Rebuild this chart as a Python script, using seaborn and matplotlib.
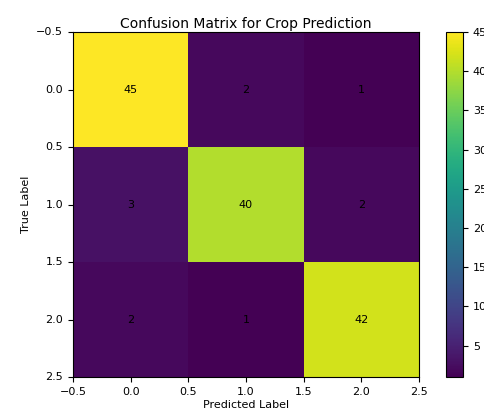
import numpy as np
import pandas as pd
import seaborn as sns
import matplotlib.pyplot as plt

# data
classes = [0, 1, 2]
row_0 = [45, 2, 1]
row_1 = [3, 40, 2]
row_2 = [2, 1, 42]

cm = pd.DataFrame([row_0, row_1, row_2], index=classes, columns=classes)

fig = plt.figure(figsize=(4.85, 4.19), dpi=100)
ax = fig.add_axes([0.1505, 0.1002, 0.7134, 0.8234])
cax = fig.add_axes([0.9196, 0.1002, 0.035, 0.8234])

sns.heatmap(cm, annot=True, fmt="d", cmap="viridis", vmin=1, vmax=45,
            ax=ax, cbar_ax=cax, annot_kws={"color": "black", "fontsize": 8})

# imshow-style tick positions (cell centres at integers)
ticks = np.arange(0, 3.01, 0.5)
labels = [f"{t - 0.5:.1f}".replace("-", "\u2212") for t in ticks]
ax.set_xticks(ticks)
ax.set_xticklabels(labels, fontsize=8, rotation=0)
ax.set_yticks(ticks)
ax.set_yticklabels(labels, fontsize=8, rotation=0)
for s in ax.spines.values():
    s.set_visible(True)
    s.set_linewidth(0.8)

ax.set_title("Confusion Matrix for Crop Prediction", fontsize=10, pad=3)
ax.set_xlabel("Predicted Label", fontsize=8, labelpad=2)
ax.set_ylabel("True Label", fontsize=8)

cb = ax.collections[0].colorbar
cb.outline.set_linewidth(0.8)
cb.outline.set_edgecolor("black")
cb.ax.tick_params(labelsize=8)

plt.savefig("out.png", dpi=100)
